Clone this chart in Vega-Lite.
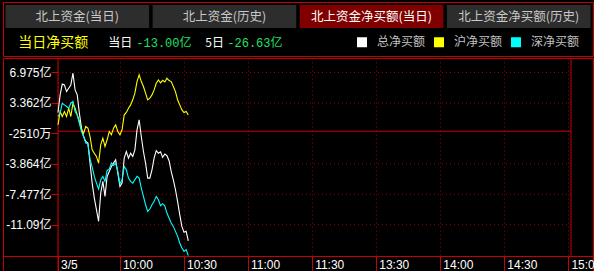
{
  "$schema": "https://vega.github.io/schema/vega-lite/v6.json",
  "background": "#000000",
  "padding": {"left": 2, "top": 1, "right": 0, "bottom": 0},
  "spacing": 0,
  "config": {"view": {"stroke": null}},
  "vconcat": [
    {
      "width": 590,
      "height": 54,
      "view": {"stroke": "#c80000"},
      "data": {"values": [
        {"tab": "北上资金(当日)", "row": "tab", "sel": false},
        {"tab": "北上资金(历史)", "row": "tab", "sel": false},
        {"tab": "北上资金净买额(当日)", "row": "tab", "sel": true},
        {"tab": "北上资金净买额(历史)", "row": "tab", "sel": false}
      ]},
      "layer": [
        {
          "mark": {"type": "rect"},
          "encoding": {
            "x": {"field": "tab", "type": "nominal", "sort": null, "axis": null,
                  "scale": {"domain": ["北上资金(当日)", "北上资金(历史)", "北上资金净买额(当日)", "北上资金净买额(历史)"], "paddingInner": 0.024, "paddingOuter": 0.017}},
            "y": {"field": "row", "type": "nominal", "axis": null,
                  "scale": {"domain": ["tab", "info"], "paddingInner": 0.077, "paddingOuter": 0.115}},
            "color": {"condition": {"test": "datum.sel", "value": "#800000"}, "value": "#2d2d2d"}
          }
        },
        {
          "mark": {"type": "text", "fontSize": 12.5, "font": "Noto Sans CJK SC", "dy": 1, "baseline": "middle"},
          "encoding": {
            "x": {"field": "tab", "type": "nominal", "sort": null, "axis": null},
            "y": {"field": "row", "type": "nominal", "axis": null},
            "text": {"field": "tab"},
            "color": {"condition": {"test": "datum.sel", "value": "#ffffff"}, "value": "#c8c8c8"}
          }
        },
        {
          "data": {"values": [{"row": "info", "txt": "当日净买额"}]},
          "mark": {"type": "text", "align": "left", "baseline": "middle", "dx": -59, "dy": 1, "fontSize": 14, "font": "Noto Sans CJK SC", "color": "#ffff00"},
          "encoding": {"x": {"datum": "北上资金(当日)", "type": "nominal", "axis": null}, "y": {"field": "row", "type": "nominal", "axis": null}, "text": {"field": "txt"}}
        },
        {
          "data": {"values": [{"row": "info", "txt": "当日"}]},
          "mark": {"type": "text", "align": "left", "baseline": "middle", "dx": 31, "dy": 1, "fontSize": 12, "font": "Noto Sans CJK SC", "color": "#ffffff"},
          "encoding": {"x": {"datum": "北上资金(当日)", "type": "nominal", "axis": null}, "y": {"field": "row", "type": "nominal", "axis": null}, "text": {"field": "txt"}}
        },
        {
          "data": {"values": [{"row": "info", "txt": "-13.00亿"}]},
          "mark": {"type": "text", "align": "left", "baseline": "middle", "dx": 59, "dy": 1, "fontSize": 12, "font": "Liberation Mono, Noto Sans CJK SC", "color": "#22e066"},
          "encoding": {"x": {"datum": "北上资金(当日)", "type": "nominal", "axis": null}, "y": {"field": "row", "type": "nominal", "axis": null}, "text": {"field": "txt"}}
        },
        {
          "data": {"values": [{"row": "info", "txt": "5日"}]},
          "mark": {"type": "text", "align": "left", "baseline": "middle", "dx": 128, "dy": 1, "fontSize": 12, "font": "Noto Sans CJK SC", "color": "#ffffff"},
          "encoding": {"x": {"datum": "北上资金(当日)", "type": "nominal", "axis": null}, "y": {"field": "row", "type": "nominal", "axis": null}, "text": {"field": "txt"}}
        },
        {
          "data": {"values": [{"row": "info", "txt": "-26.63亿"}]},
          "mark": {"type": "text", "align": "left", "baseline": "middle", "dx": 150, "dy": 1, "fontSize": 12, "font": "Liberation Mono, Noto Sans CJK SC", "color": "#22e066"},
          "encoding": {"x": {"datum": "北上资金(当日)", "type": "nominal", "axis": null}, "y": {"field": "row", "type": "nominal", "axis": null}, "text": {"field": "txt"}}
        }
      ]
    },
    {
      "width": 590,
      "height": 215,
      "view": {"stroke": "#c80000"},
      "layer": [
        {
          "data": {"values": [{"g": 6.975}, {"g": 3.362}, {"g": -3.864}, {"g": -7.477}, {"g": -11.09}]},
          "mark": {"type": "rule", "color": "#a00000", "strokeDash": [1, 3], "strokeWidth": 1},
          "encoding": {
            "y": {"field": "g", "type": "quantitative"},
            "x": {"datum": 1, "type": "quantitative"},
            "x2": {"datum": 241.2}
          }
        },
        {
          "data": {"values": [{"g": 0}]},
          "mark": {"type": "rule", "color": "#c80000", "strokeWidth": 1},
          "encoding": {
            "y": {"field": "g", "type": "quantitative"},
            "x": {"datum": 1, "type": "quantitative"},
            "x2": {"datum": 241.2}
          }
        },
        {
          "data": {"values": [{}]},
          "mark": {"type": "rule", "color": "#c80000", "strokeWidth": 1},
          "encoding": {"x": {"datum": 1, "type": "quantitative"}}
        },
        {
          "data": {"values": [{}]},
          "mark": {"type": "rule", "color": "#c80000", "strokeWidth": 1},
          "encoding": {
            "x": {"datum": 241.2, "type": "quantitative"},
            "y": {"datum": 8.696, "type": "quantitative"},
            "y2": {"datum": -14.805}
          }
        },
        {
          "data": {"values": [
            {"t": 1, "总净买额": 2.23, "沪净买额": 0.76, "深净买额": 1.75},
            {"t": 2, "总净买额": 4.32, "沪净买额": 2.34, "深净买额": 2.15},
            {"t": 3, "总净买额": 5.6, "沪净买额": 1.75, "深净买额": 3.33},
            {"t": 4, "总净买额": 5.5, "沪净买额": 2.34, "深净买额": 3.13},
            {"t": 5, "总净买额": 4.71, "沪净买额": 1.75, "深净买额": 2.94},
            {"t": 6, "总净买额": 5.11, "沪净买额": 2.74, "深净买额": 2.74},
            {"t": 7, "总净买额": 5.5, "沪净买额": 1.75, "深净买额": 3.33},
            {"t": 8, "总净买额": 6.89, "沪净买额": 3.33, "深净买额": 3.53},
            {"t": 9, "总净买额": 4.91, "沪净买额": 2.74, "深净买额": 2.34},
            {"t": 10, "总净买额": 4.32, "沪净买额": 1.95, "深净买额": 1.95},
            {"t": 11, "总净买额": 2.15, "沪净买额": 1.16, "深净买额": 0.96},
            {"t": 12, "总净买额": 0.37, "沪净买额": 0.17, "深净买额": -0.03},
            {"t": 13, "总净买额": -0.62, "沪净买额": -0.22, "深净买额": -0.62},
            {"t": 14, "总净买额": -1.21, "沪净买额": 0.57, "深净买额": -1.41},
            {"t": 15, "总净买额": -1.41, "沪净买额": 0.37, "深净买额": -1.49},
            {"t": 16, "总净买额": -3.78, "沪净买额": -0.62, "深净买额": -3.31},
            {"t": 17, "总净买额": -6.15, "沪净买额": -2.2, "深净买额": -4.25},
            {"t": 18, "总净买额": -7.93, "沪净买额": -2.6, "深净买额": -5.36},
            {"t": 19, "总净买额": -9.31, "沪净买额": -2.99, "深净买额": -6.15},
            {"t": 20, "总净买额": -10.69, "沪净买额": -3.78, "深净买额": -6.86},
            {"t": 21, "总净买额": -7.34, "沪净买额": -1.61, "深净买额": -5.76},
            {"t": 22, "总净买额": -5.95, "沪净买额": -0.82, "深净买额": -5.36},
            {"t": 23, "总净买额": -7.73, "沪净买额": -1.8, "深净买额": -5.95},
            {"t": 24, "总净买额": -5.36, "沪净买额": -1.01, "深净买额": -4.65},
            {"t": 25, "总净买额": -4.77, "沪净买额": -0.03, "深净买额": -4.49},
            {"t": 26, "总净买额": -4.18, "沪净买额": -0.42, "深净买额": -3.78},
            {"t": 27, "总净买额": -3.78, "沪净买额": 0.37, "深净买额": -4.06},
            {"t": 28, "总净买额": -3.38, "沪净买额": 0.76, "深净买额": -3.78},
            {"t": 29, "总净买额": -4.97, "沪净买额": -0.03, "深净买额": -4.77},
            {"t": 30, "总净买额": -6.55, "沪净买额": -0.42, "深净买额": -6.23},
            {"t": 31, "总净买额": -6.15, "沪净买额": 0.17, "深净买额": -5.76},
            {"t": 32, "总净买额": -3.19, "沪净买额": 1.95, "深净买额": -4.18},
            {"t": 33, "总净买额": -2.4, "沪净买额": 2.23, "深净买额": -4.57},
            {"t": 34, "总净买额": -3.19, "沪净买额": 2.74, "深净买额": -5.56},
            {"t": 35, "总净买额": -2.6, "沪净买额": 3.13, "深净买额": -5.95},
            {"t": 36, "总净买额": -2.99, "沪净买额": 3.73, "深净买额": -6.15},
            {"t": 37, "总净买额": -2.2, "沪净买额": 4.52, "深净买额": -5.76},
            {"t": 38, "总净买额": 0.17, "沪净买额": 5.9, "深净买额": -5.36},
            {"t": 39, "总净买额": 1.36, "沪净买额": 6.69, "深净买额": -5.56},
            {"t": 40, "总净买额": -0.62, "沪净买额": 5.9, "深净买额": -6.74},
            {"t": 41, "总净买额": -2.4, "沪净买额": 5.31, "深净买额": -7.73},
            {"t": 42, "总净买额": -3.78, "沪净买额": 4.52, "深净买额": -8.72},
            {"t": 43, "总净买额": -5.56, "沪净买额": 3.73, "深净买额": -9.51},
            {"t": 44, "总净买额": -5.56, "沪净买额": 3.92, "深净买额": -9.23},
            {"t": 45, "总净买额": -4.57, "沪净买额": 4.32, "深净买额": -8.72},
            {"t": 46, "总净买额": -3.19, "沪净买额": 4.91, "深净买额": -8.32},
            {"t": 47, "总净买额": -2.3, "沪净买额": 5.7, "深净买额": -7.73},
            {"t": 48, "总净买额": -2.6, "沪净买额": 6.1, "深净买额": -8.13},
            {"t": 49, "总净买额": -2.45, "沪净买额": 5.75, "深净买额": -8.84},
            {"t": 50, "总净买额": -3.1, "沪净买额": 6.05, "深净买额": -8.6},
            {"t": 51, "总净买额": -2.7, "沪净买额": 5.85, "深净买额": -8.84},
            {"t": 52, "总净买额": -2.9, "沪净买额": 6.3, "深净买额": -9.71},
            {"t": 53, "总净买额": -3.5, "沪净买额": 6.02, "深净买额": -10.3},
            {"t": 54, "总净买额": -4.77, "沪净买额": 5.9, "深净买额": -10.89},
            {"t": 55, "总净买额": -5.76, "沪净买额": 5.31, "深净买额": -11.29},
            {"t": 56, "总净买额": -6.94, "沪净买额": 4.71, "深净买额": -11.88},
            {"t": 57, "总净买额": -8.32, "沪净买额": 3.73, "深净买额": -12.47},
            {"t": 58, "总净买额": -9.9, "沪净买额": 3.13, "深净买额": -13.26},
            {"t": 59, "总净买额": -11.29, "沪净买额": 2.54, "深净买额": -13.85},
            {"t": 60, "总净买额": -12.0, "沪净买额": 2.23, "深净买额": -14.25},
            {"t": 61, "总净买额": -11.88, "沪净买额": 2.34, "深净买额": -14.05},
            {"t": 62, "总净买额": -13.0, "沪净买额": 1.95, "深净买额": -14.76}
          ]},
          "transform": [{"fold": ["总净买额", "沪净买额", "深净买额"], "as": ["series", "value"]}],
          "mark": {"type": "line", "strokeWidth": 1.1, "interpolate": "linear"},
          "encoding": {
            "x": {
              "field": "t", "type": "quantitative",
              "scale": {"domain": [-24.753, 251.501], "nice": false, "zero": false},
              "axis": {
                "orient": "bottom", "offset": -17, "title": null,
                "values": [1, 30, 60, 90, 120, 150, 180, 210, 240],
                "labelExpr": "datum.value == 1 ? '3/5' : datum.value == 30 ? '10:00' : datum.value == 60 ? '10:30' : datum.value == 90 ? '11:00' : datum.value == 120 ? '11:30' : datum.value == 150 ? '13:30' : datum.value == 180 ? '14:00' : datum.value == 210 ? '14:30' : '15:00'",
                "domain": true, "domainColor": "#c80000", "domainWidth": 1,
                "ticks": true, "tickSize": 17, "tickColor": "#c80000", "tickWidth": 1,
                "grid": true, "gridColor": "#a00000", "gridDash": [1, 3], "gridWidth": 1,
                "labelAlign": "left", "labelBaseline": "middle", "labelPadding": -8.5, "labelOffset": 2.5,
                "labelColor": "#ffffff", "labelFont": "Liberation Sans", "labelFontSize": 12,
                "labelFlush": false, "labelOverlap": false, "labelBound": false
              }
            },
            "y": {
              "field": "value", "type": "quantitative",
              "scale": {"domain": [-16.823, 8.696], "nice": false, "zero": false},
              "axis": {
                "orient": "left", "offset": -55, "title": null,
                "values": [6.975, 3.362, -0.251, -3.864, -7.477, -11.09],
                "labelExpr": "(datum.value < 0 ? '-' : '') + (abs(datum.value) < 1 ? format(abs(datum.value) * 10000, 'd') + '万' : format(abs(datum.value), abs(datum.value) >= 10 ? '.2f' : '.3f') + '亿')",
                "domain": false, "grid": false,
                "ticks": true, "tickSize": 7, "tickColor": "#c80000", "tickWidth": 1,
                "labelPadding": 0, "labelBaseline": "middle",
                "labelColor": "#ffffff", "labelFont": "Liberation Sans, Noto Sans CJK SC", "labelFontSize": 12,
                "labelFlush": false, "labelOverlap": false, "labelBound": false
              }
            },
            "color": {
              "field": "series", "type": "nominal",
              "scale": {"domain": ["总净买额", "沪净买额", "深净买额"], "range": ["#ffffff", "#ffff00", "#00ffff"]},
              "legend": {
                "orient": "none", "legendX": 353, "legendY": 34, "direction": "horizontal", "title": null,
                "symbolType": "square", "symbolSize": 25, "symbolStrokeWidth": 5,
                "labelColor": "#c0c0c0", "labelFont": "Noto Sans CJK SC", "labelFontSize": 12,
                "labelOffset": 9, "columnPadding": 0, "padding": 0
              }
            }
          }
        }
      ]
    }
  ]
}
